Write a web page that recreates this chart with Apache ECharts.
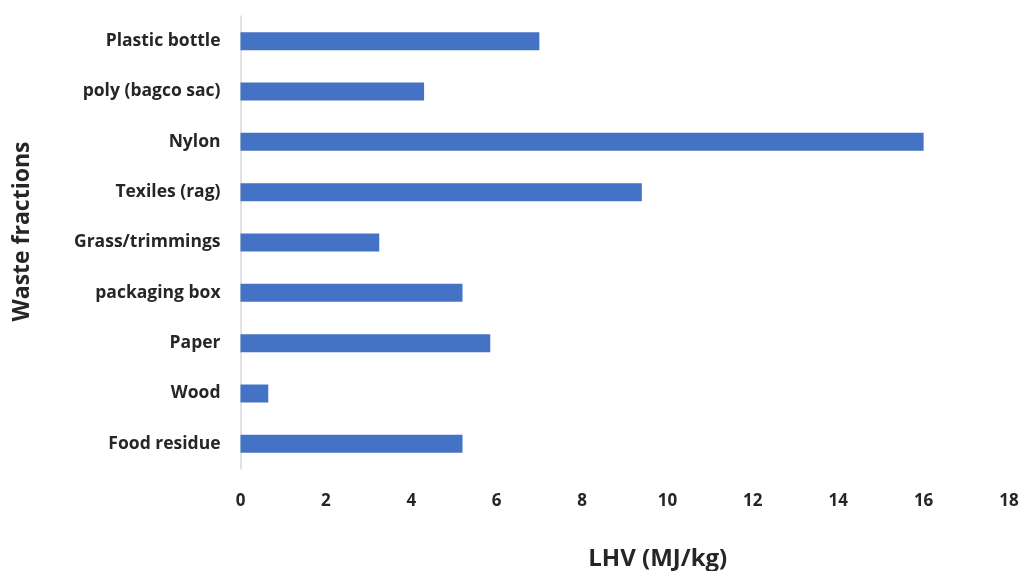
<!DOCTYPE html>
<html>
<head>
<meta charset="utf-8">
<script src="https://cdn.jsdelivr.net/npm/echarts@6/dist/echarts.min.js"></script>
<style>
  html, body { margin: 0; padding: 0; background: #fff; }
  #chart { width: 1022px; height: 571px; }
</style>
</head>
<body>
<div id="chart"></div>
<script>
// Waste fractions, listed bottom to top as the category axis draws them
const categories = [
  'Food residue', 'Wood', 'Paper', 'packaging box', 'Grass/trimmings',
  'Texiles (rag)', 'Nylon', 'poly (bagco sac)', 'Plastic bottle'
];
// Lower heating value per fraction, MJ/kg
const lhvValues = [5.2, 0.65, 5.85, 5.2, 3.25, 9.4, 16.0, 4.3, 7.0];
// Value axis ticks
const xTicks = { min: 0, max: 18, interval: 2 };

const FONT = '"Open Sans", Lato, sans-serif';
const chart = echarts.init(document.getElementById('chart'));
chart.setOption({
  animation: false,
  grid: { left: 240.5, right: 13, top: 16, bottom: 102, containLabel: false, outerBoundsMode: 'none' },
  xAxis: {
    type: 'value',
    min: xTicks.min, max: xTicks.max, interval: xTicks.interval,
    axisLine: { show: false },
    axisTick: { show: false },
    splitLine: { show: false },
    axisLabel: { fontFamily: FONT, fontWeight: 'bold', fontSize: 17, color: '#262626', margin: 24 },
    name: 'LHV (MJ/kg)',
    nameLocation: 'middle',
    nameGap: 78,
    nameTextStyle: { fontFamily: FONT, fontWeight: 'bold', fontSize: 24, color: '#262626', padding: [0, 0, 0, 66] }
  },
  yAxis: {
    type: 'category',
    data: categories,
    axisLine: { show: true, lineStyle: { color: '#d9d9d9', width: 1.5 } },
    axisTick: { show: false },
    axisLabel: { fontFamily: FONT, fontWeight: 'bold', fontSize: 17.5, color: '#262626', margin: 20 },
    name: 'Waste fractions',
    nameLocation: 'middle',
    nameGap: 207,
    nameRotate: 90,
    nameTextStyle: { fontFamily: FONT, fontWeight: 'bold', fontSize: 23, color: '#262626', padding: [0, 0, 0, 22] }
  },
  series: [{
    type: 'bar',
    data: lhvValues,
    barWidth: 18,
    itemStyle: { color: '#4472C4' }
  }]
});
</script>
</body>
</html>
